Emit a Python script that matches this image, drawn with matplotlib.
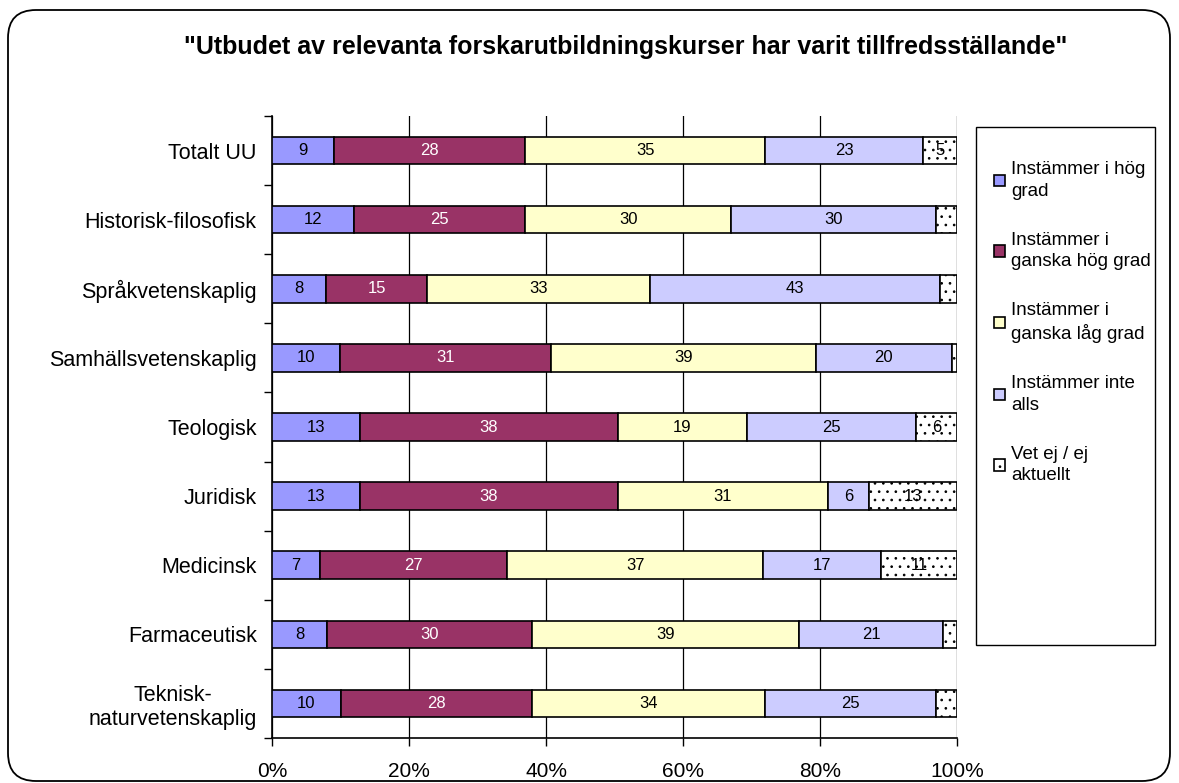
import numpy as np
import matplotlib
matplotlib.use("Agg")
import matplotlib.pyplot as plt
from matplotlib.patches import FancyBboxPatch, Rectangle
from matplotlib.transforms import IdentityTransform

plt.rcParams['font.family'] = ['Liberation Sans', 'DejaVu Sans']
plt.rcParams['hatch.linewidth'] = 0.7

title = '"Utbudet av relevanta forskarutbildningskurser har varit tillfredsställande"'

categories = ["Totalt UU", "Historisk-filosofisk", "Språkvetenskaplig",
              "Samhällsvetenskaplig", "Teologisk", "Juridisk", "Medicinsk",
              "Farmaceutisk", "Teknisk-\nnaturvetenskaplig"]

series_names = ["Instämmer i hög\ngrad", "Instämmer i\nganska hög grad",
                "Instämmer i\nganska låg grad", "Instämmer inte\nalls",
                "Vet ej / ej\naktuellt"]

hog = [9, 12, 8, 10, 13, 13, 7, 8, 10]
ganska_hog = [28, 25, 15, 31, 38, 38, 27, 30, 28]
ganska_lag = [35, 30, 33, 39, 19, 31, 37, 39, 34]
inte_alls = [23, 30, 43, 20, 25, 6, 17, 21, 25]
vet_ej = [5, 3, 2.5, 0.8, 6, 13, 11, 2, 3]

xticks = [0, 20, 40, 60, 80, 100]
xticklabels = ["0%", "20%", "40%", "60%", "80%", "100%"]

colors = ["#9999FF", "#993366", "#FFFFCC", "#CCCCFF", "#FFFFFF"]
text_colors = ["black", "white", "black", "black", "black"]
hatches = [None, None, None, None, ".."]

data = np.array([hog, ganska_hog, ganska_lag, inte_alls, vet_ej], dtype=float)
shares = data / data.sum(axis=0) * 100

fig = plt.figure(figsize=(11.79, 7.83), dpi=100)
ax = fig.add_axes([272 / 1179, 45 / 783, 685 / 1179, 622 / 783])

y = np.arange(len(categories))
left = np.zeros(len(categories))
handles = []
for i in range(len(series_names)):
    bars = ax.barh(y, shares[i], left=left, height=0.4, color=colors[i],
                   edgecolor="black", linewidth=1.2, hatch=hatches[i],
                   label=series_names[i], zorder=3)
    handles.append(bars)
    for j in range(len(categories)):
        if data[i, j] >= 4:
            ax.text(left[j] + shares[i, j] / 2, y[j], str(int(round(data[i, j]))),
                    ha="center", va="center", fontsize=12, color=text_colors[i],
                    zorder=4)
    left += shares[i]

ax.set_xlim(0, 100)
ax.set_ylim(len(categories) - 0.5, -0.5)
ax.set_xticks(xticks)
ax.set_xticklabels(xticklabels, fontsize=15)
ax.grid(axis="x", color="black", linewidth=0.9, zorder=0)
ax.tick_params(axis="x", direction="out", length=6, width=1, pad=11)

ax.set_yticks(np.arange(len(categories) + 1) - 0.5)
ax.set_yticklabels([])
ax.set_yticks(y, minor=True)
ax.set_yticklabels(categories, minor=True, fontsize=15.5, multialignment="center")
ax.tick_params(axis="y", which="major", direction="out", length=6, width=1)
ax.tick_params(axis="y", which="minor", length=0, pad=11)

for side in ["top", "right"]:
    ax.spines[side].set_visible(False)
for side in ["left", "bottom"]:
    ax.spines[side].set_linewidth(1.2)

fig.text(626 / 1179, 1 - 47 / 783, title, ha="center", va="center",
         fontsize=18, fontweight="bold")

# legend frame and entries
fig.patches.append(Rectangle((976, 783 - 645), 1155 - 976, 645 - 127, transform=IdentityTransform(),
                             facecolor="white", edgecolor="black", linewidth=1.0))
leg = fig.legend(handles=handles, labels=series_names, loc="upper left",
                 bbox_to_anchor=(985 / 1179, 1 - 152 / 783), frameon=False,
                 fontsize=13.5, handlelength=0.55, handleheight=0.55,
                 handletextpad=0.35, labelspacing=1.7, borderpad=0)
for t in leg.get_texts():
    t.set_linespacing(1.35)

# rounded outer border of the chart area
fig.patches.append(FancyBboxPatch((8, 2), 1162, 771, boxstyle="round,pad=0,rounding_size=28",
                                  transform=IdentityTransform(), facecolor="none",
                                  edgecolor="black", linewidth=1.3))

fig.savefig("out.png", dpi=100)
